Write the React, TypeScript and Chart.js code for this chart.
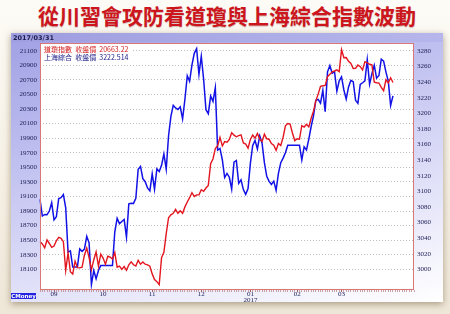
import { useEffect, useRef } from 'react';
import { Chart, registerables } from 'chart.js';

Chart.register(...registerables);

const titleText = '從川習會攻防看道瓊與上海綜合指數波動';
const headerDate = '2017/03/31';

const tradeDates = [
  '2016-08-24', '2016-08-25', '2016-08-26', '2016-08-29', '2016-08-30', '2016-08-31',
  '2016-09-01', '2016-09-02', '2016-09-06', '2016-09-07', '2016-09-08', '2016-09-09',
  '2016-09-12', '2016-09-13', '2016-09-14', '2016-09-15', '2016-09-16',
  '2016-09-19', '2016-09-20', '2016-09-21', '2016-09-22', '2016-09-23',
  '2016-09-26', '2016-09-27', '2016-09-28', '2016-09-29', '2016-09-30',
  '2016-10-03', '2016-10-04', '2016-10-05', '2016-10-06', '2016-10-07',
  '2016-10-10', '2016-10-11', '2016-10-12', '2016-10-13', '2016-10-14',
  '2016-10-17', '2016-10-18', '2016-10-19', '2016-10-20', '2016-10-21',
  '2016-10-24', '2016-10-25', '2016-10-26', '2016-10-27', '2016-10-28', '2016-10-31',
  '2016-11-01', '2016-11-02', '2016-11-03', '2016-11-04',
  '2016-11-07', '2016-11-08', '2016-11-09', '2016-11-10', '2016-11-11',
  '2016-11-14', '2016-11-15', '2016-11-16', '2016-11-17', '2016-11-18',
  '2016-11-21', '2016-11-22', '2016-11-23', '2016-11-25',
  '2016-11-28', '2016-11-29', '2016-11-30',
  '2016-12-01', '2016-12-02', '2016-12-05', '2016-12-06', '2016-12-07', '2016-12-08', '2016-12-09',
  '2016-12-12', '2016-12-13', '2016-12-14', '2016-12-15', '2016-12-16',
  '2016-12-19', '2016-12-20', '2016-12-21', '2016-12-22', '2016-12-23',
  '2016-12-27', '2016-12-28', '2016-12-29', '2016-12-30',
  '2017-01-03', '2017-01-04', '2017-01-05', '2017-01-06',
  '2017-01-09', '2017-01-10', '2017-01-11', '2017-01-12', '2017-01-13',
  '2017-01-17', '2017-01-18', '2017-01-19', '2017-01-20',
  '2017-01-23', '2017-01-24', '2017-01-25', '2017-01-26', '2017-01-27',
  '2017-01-30', '2017-01-31', '2017-02-01', '2017-02-02', '2017-02-03',
  '2017-02-06', '2017-02-07', '2017-02-08', '2017-02-09', '2017-02-10',
  '2017-02-13', '2017-02-14', '2017-02-15', '2017-02-16', '2017-02-17',
  '2017-02-21', '2017-02-22', '2017-02-23', '2017-02-24',
  '2017-02-27', '2017-02-28', '2017-03-01', '2017-03-02', '2017-03-03',
  '2017-03-06', '2017-03-07', '2017-03-08', '2017-03-09', '2017-03-10',
  '2017-03-13', '2017-03-14', '2017-03-15', '2017-03-16', '2017-03-17',
  '2017-03-20', '2017-03-21', '2017-03-22', '2017-03-23', '2017-03-24',
  '2017-03-27', '2017-03-28', '2017-03-29', '2017-03-30', '2017-03-31',
];

// 道瓊指數 收盤價
const djiClose = [
  18481.48, 18448.41, 18395.40, 18502.99, 18454.30, 18400.88,
  18419.30, 18491.96, 18538.12, 18526.14, 18479.91, 18085.45,
  18325.07, 18066.75, 18034.77, 18212.48, 18123.80,
  18120.17, 18129.96, 18293.70, 18392.46, 18261.45,
  18094.83, 18228.30, 18339.24, 18143.45, 18308.15,
  18253.85, 18168.45, 18281.03, 18268.50, 18240.49,
  18329.04, 18128.66, 18144.20, 18098.94, 18138.38,
  18086.40, 18161.94, 18202.62, 18162.35, 18145.71,
  18223.03, 18169.27, 18199.33, 18169.68, 18161.19, 18142.42,
  18037.10, 17959.64, 17930.67, 17888.28,
  18259.60, 18332.43, 18589.69, 18807.88, 18847.66,
  18868.69, 18923.06, 18868.14, 18903.82, 18867.93,
  18956.69, 19023.87, 19083.18, 19152.14,
  19097.90, 19121.60, 19123.58,
  19191.93, 19170.42, 19216.24, 19251.78, 19549.62, 19614.81, 19756.85,
  19796.43, 19911.21, 19792.53, 19852.24, 19843.41,
  19883.06, 19974.62, 19941.96, 19918.88, 19933.81,
  19945.04, 19833.68, 19819.78, 19762.60,
  19881.76, 19942.16, 19899.29, 19963.80,
  19887.38, 19855.53, 19954.28, 19891.00, 19885.73,
  19826.77, 19804.72, 19732.40, 19827.25,
  19799.85, 19912.71, 20068.51, 20100.91, 20093.78,
  19971.13, 19864.09, 19890.94, 19884.91, 20071.46,
  20052.42, 20090.29, 20054.34, 20172.40, 20269.37,
  20412.16, 20504.41, 20611.86, 20619.77, 20624.05,
  20743.00, 20775.60, 20810.32, 20821.76,
  20837.44, 20812.24, 21115.55, 21002.97, 21005.71,
  20954.34, 20924.76, 20855.73, 20858.19, 20902.98,
  20881.48, 20837.37, 20950.10, 20934.55, 20914.62,
  20905.86, 20668.01, 20661.30, 20656.58, 20596.72,
  20550.98, 20701.50, 20659.32, 20728.49, 20663.22,
];

// 上海綜合 收盤價
const sseClose = [
  3089.71, 3068.33, 3070.31, 3070.03, 3074.68, 3085.49,
  3063.31, 3067.35, 3090.71, 3091.93, 3095.95, 3078.85,
  3021.98, 3023.51, 3002.85, 3002.85, 3002.85,
  3026.05, 3023.00, 3025.87, 3042.31, 3033.90,
  2980.43, 2998.48, 2987.86, 2998.49, 3004.70,
  3004.70, 3004.70, 3004.70, 3004.70, 3004.70,
  3048.14, 3065.25, 3058.50, 3061.35, 3063.81,
  3041.17, 3083.88, 3084.72, 3084.46, 3090.94,
  3128.25, 3131.94, 3116.31, 3112.35, 3104.27, 3100.49,
  3122.41, 3102.71, 3128.94, 3125.32,
  3133.33, 3147.89, 3128.37, 3171.28, 3196.04,
  3210.37, 3206.99, 3205.06, 3208.45, 3192.86,
  3218.15, 3248.35, 3241.14, 3261.94,
  3277.00, 3282.92, 3250.03,
  3273.31, 3243.84, 3204.71, 3199.65, 3222.24, 3215.37, 3232.88,
  3152.97, 3155.04, 3140.53, 3117.68, 3122.98,
  3118.08, 3102.88, 3137.43, 3139.56, 3110.15,
  3114.66, 3102.24, 3096.10, 3103.64,
  3135.92, 3158.79, 3165.41, 3154.32,
  3171.24, 3161.67, 3136.75, 3119.29, 3112.76,
  3108.77, 3113.01, 3101.30, 3123.14,
  3136.77, 3142.55, 3149.55, 3159.17, 3159.17,
  3159.17, 3159.17, 3159.17, 3159.17, 3140.17,
  3156.98, 3153.09, 3166.98, 3183.18, 3196.70,
  3216.84, 3217.93, 3212.99, 3229.62, 3202.08,
  3253.33, 3261.22, 3251.38, 3253.43,
  3228.66, 3241.73, 3246.84, 3230.03, 3218.31,
  3233.87, 3242.41, 3240.66, 3216.75, 3212.76,
  3237.02, 3239.33, 3241.76, 3268.94, 3237.45,
  3250.81, 3261.61, 3245.22, 3248.55, 3269.45,
  3266.96, 3252.95, 3241.31, 3210.24, 3222.51,
];

const emptyTrailingDays = 9;

const monthTickDates = ['2016-09-01', '2016-10-03', '2016-11-01', '2016-12-01', '2017-01-03', '2017-02-01', '2017-03-01'];
const monthTickLabels: (string | string[])[] = ['09', '10', '11', '12', ['01', '2017'], '02', '03'];

const djiTicks = [18100, 18300, 18500, 18700, 18900, 19100, 19300, 19500, 19700, 19900, 20100, 20300, 20500, 20700, 20900, 21100];
const sseTicks = [3000, 3020, 3040, 3060, 3080, 3100, 3120, 3140, 3160, 3180, 3200, 3220, 3240, 3260, 3280];
const djiRange = [17816, 21206];
const sseRange = [2973.4, 3290.3];

const legendLines = ['道瓊指數  收盤價  20663.22', '上海綜合  收盤價  3222.514'];

const RED = '#e3161f';
const BLUE = '#1212e6';

export default function App() {
  const ref = useRef<HTMLCanvasElement>(null);

  useEffect(() => {
    document.body.style.margin = '0';
    const labels = [...tradeDates, ...Array.from({ length: emptyTrailingDays }, (_, i) => `pad${i}`)];

    const framePlugin = {
      id: 'frame',
      beforeDraw(chart: any) {
        const { ctx, chartArea } = chart;
        const { left, top, right, bottom } = chartArea;
        ctx.save();
        ctx.fillStyle = '#ffffff';
        ctx.fillRect(left, top, right - left, bottom - top);
        ctx.restore();
      },
      afterDraw(chart: any) {
        const { ctx, chartArea } = chart;
        const { left, top, right, bottom } = chartArea;
        ctx.save();
        ctx.fillStyle = '#ffffff';
        ctx.fillRect(left + 1, top + 1, 90, 19);
        ctx.font = '7px "Noto Sans CJK TC"';
        ctx.textBaseline = 'middle';
        ctx.textAlign = 'left';
        ctx.fillStyle = '#d42020';
        ctx.fillText(legendLines[0], left + 4, top + 6.5);
        ctx.fillStyle = '#20208a';
        ctx.fillText(legendLines[1], left + 4, top + 14);
        ctx.strokeStyle = '#d97777';
        ctx.lineWidth = 1;
        ctx.strokeRect(left + 0.5, top + 0.5, right - left - 1, bottom - top - 1);
        ctx.restore();
      },
    };

    const tickFont = { family: '"Liberation Serif", serif', size: 7 };

    const chart = new Chart(ref.current as HTMLCanvasElement, {
      type: 'line',
      data: {
        labels,
        datasets: [
          {
            label: '道瓊指數',
            data: djiClose,
            yAxisID: 'yL',
            borderColor: RED,
            backgroundColor: RED,
            borderWidth: 1.4,
            pointRadius: 0,
            tension: 0,
          },
          {
            label: '上海綜合',
            data: sseClose,
            yAxisID: 'yR',
            borderColor: BLUE,
            backgroundColor: BLUE,
            borderWidth: 1.5,
            pointRadius: 0,
            tension: 0,
          },
        ],
      },
      options: {
        responsive: false,
        animation: false,
        devicePixelRatio: 1,
        layout: { padding: { top: 43, left: 0, right: 0, bottom: 0 } },
        plugins: { legend: { display: false }, tooltip: { enabled: false } },
        scales: {
          x: {
            type: 'category',
            offset: false,
            border: { display: false },
            grid: {
              drawOnChartArea: false,
              drawTicks: true,
              tickLength: 2,
              lineWidth: 1,
              color: (c: any) => {
                const d = labels[c.index];
                return monthTickDates.includes(d) ? '#a06060' : 'rgba(190,130,130,0.75)';
              },
            },
            ticks: {
              autoSkip: false,
              maxRotation: 0,
              minRotation: 0,
              padding: -1,
              color: '#22225a',
              font: { ...tickFont, lineHeight: 0.85 },
              callback: (_v: any, i: number) => {
                const k = monthTickDates.indexOf(labels[i]);
                return k >= 0 ? monthTickLabels[k] : '';
              },
            },
            afterFit: (s: any) => {
              s.height = 24;
            },
          },
          yL: {
            type: 'linear',
            position: 'left',
            min: djiRange[0],
            max: djiRange[1],
            afterBuildTicks: (s: any) => {
              s.ticks = djiTicks.map((v) => ({ value: v }));
            },
            afterFit: (s: any) => {
              s.width = 40;
            },
            border: { display: false, dash: [1, 2] },
            grid: { drawTicks: false, color: '#bdbdbd', lineWidth: 1 },
            ticks: {
              padding: 3,
              color: '#22225a',
              font: tickFont,
              callback: (v: any) => String(v),
            },
          },
          yR: {
            type: 'linear',
            position: 'right',
            min: sseRange[0],
            max: sseRange[1],
            afterBuildTicks: (s: any) => {
              s.ticks = sseTicks.map((v) => ({ value: v }));
            },
            afterFit: (s: any) => {
              s.width = 36;
            },
            border: { display: false },
            grid: { display: false, drawTicks: false },
            ticks: {
              padding: 3,
              color: '#22225a',
              font: tickFont,
              callback: (v: any) => String(v),
            },
          },
        },
      },
      plugins: [framePlugin],
    } as any);

    return () => chart.destroy();
  }, []);

  return (
    <div
      style={{
        position: 'fixed',
        left: 0,
        top: 0,
        width: 450,
        height: 314,
        overflow: 'hidden',
        background: 'linear-gradient(to bottom, #fdfbf6 0%, #f6f0e4 60%, #efe7d8 100%)',
      }}
    >
      <div
        style={{
          position: 'absolute',
          left: 0,
          top: 4,
          width: 454,
          textAlign: 'center',
          fontFamily: '"Noto Sans CJK TC", sans-serif',
          fontWeight: 700,
          fontSize: 21,
          lineHeight: '23px',
          color: '#cc151c',
          textShadow: '0 1px 1px rgba(90,0,0,0.25)',
          whiteSpace: 'nowrap',
        }}
      >
        {titleText}
      </div>
      <div
        style={{
          position: 'absolute',
          left: 11,
          top: 33,
          width: 432,
          height: 269,
          background: 'linear-gradient(165deg, #a0a0e4 0%, #bcbcef 30%, #dedef8 65%, #ffffff 100%)',
          boxShadow: '0 2px 7px rgba(95,75,40,0.5)',
        }}
      >
        <div
          style={{
            position: 'absolute',
            left: 0,
            top: 0,
            width: 432,
            height: 9,
            background: 'linear-gradient(to right, #9e9ee0, #b6b6ec)',
          }}
        />
      </div>
      <canvas
        ref={ref}
        width={450}
        height={314}
        style={{ position: 'absolute', left: 0, top: 0, width: 450, height: 314 }}
      />
      <div
        style={{
          position: 'absolute',
          left: 13,
          top: 34,
          fontFamily: '"DejaVu Sans", sans-serif',
          fontWeight: 700,
          fontSize: 6.5,
          lineHeight: '8px',
          color: '#1c1c4e',
        }}
      >
        {headerDate}
      </div>
      <div
        style={{
          position: 'absolute',
          left: 11,
          top: 293,
          width: 25,
          height: 6,
          background: '#2424e0',
          color: '#ffffff',
          fontFamily: '"DejaVu Sans", sans-serif',
          fontSize: 5.5,
          lineHeight: '6px',
          textAlign: 'center',
          fontWeight: 700,
        }}
      >
        CMoney
      </div>
    </div>
  );
}
